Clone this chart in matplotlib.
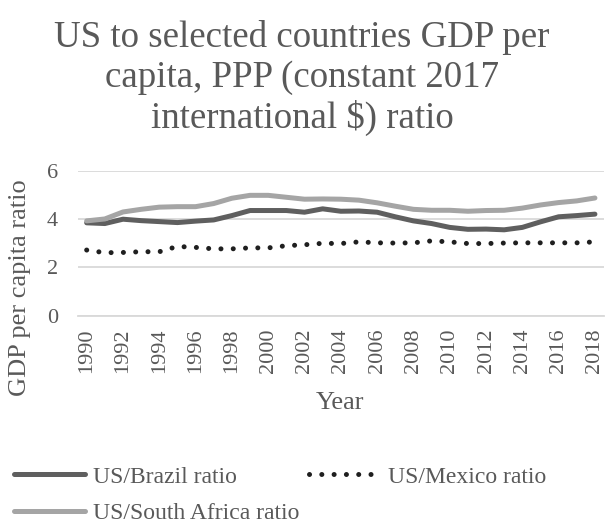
import matplotlib
matplotlib.use("Agg")
import matplotlib.pyplot as plt

plt.rcParams["font.family"] = ["Liberation Serif", "DejaVu Serif"]

years = [1990, 1991, 1992, 1993, 1994, 1995, 1996, 1997, 1998, 1999,
         2000, 2001, 2002, 2003, 2004, 2005, 2006, 2007, 2008, 2009,
         2010, 2011, 2012, 2013, 2014, 2015, 2016, 2017, 2018]
brazil = [3.85, 3.82, 4.00, 3.94, 3.90, 3.86, 3.92, 3.97, 4.15, 4.36,
          4.36, 4.36, 4.29, 4.43, 4.33, 4.34, 4.29, 4.10, 3.93, 3.82,
          3.66, 3.58, 3.59, 3.56, 3.66, 3.89, 4.10, 4.15, 4.21]
mexico = [2.72, 2.61, 2.62, 2.65, 2.65, 2.87, 2.83, 2.77, 2.77, 2.81,
          2.81, 2.90, 2.94, 3.00, 2.99, 3.06, 3.02, 3.01, 3.02, 3.10,
          3.06, 2.99, 2.99, 3.01, 3.02, 3.02, 3.02, 3.02, 3.06]
south_africa = [3.93, 4.01, 4.30, 4.41, 4.50, 4.52, 4.52, 4.65, 4.87, 4.99,
                4.99, 4.91, 4.83, 4.84, 4.83, 4.79, 4.68, 4.54, 4.41, 4.37,
                4.37, 4.33, 4.36, 4.37, 4.46, 4.59, 4.69, 4.76, 4.88]
y_ticks = [0, 2, 4, 6]
x_tick_labels = [str(y) for y in years[::2]]

TEXT = "#595959"
GRID = "#d9d9d9"

fig = plt.figure(figsize=(6.05, 5.23), dpi=100)
ax = fig.add_axes([77.6 / 605, 207.4 / 523, (604 - 77.6) / 605, 144.6 / 523])

x = list(range(len(years)))
l_br, = ax.plot(x, brazil, color="#5f5f5f", lw=3.6, solid_capstyle="round",
                solid_joinstyle="round", label="US/Brazil ratio")
l_mx, = ax.plot(x, mexico, color="#1f1f1f", lw=3.6, linestyle=(0, (0.01, 2.45)),
                dash_capstyle="round", label="US/Mexico ratio")
l_sa, = ax.plot(x, south_africa, color="#a5a5a5", lw=3.6, solid_capstyle="round",
                solid_joinstyle="round", label="US/South Africa ratio")

ax.set_xlim(-0.5, len(years) - 0.5)
ax.set_ylim(0, 6)
ax.set_yticks(y_ticks)
ax.set_xticks(x[::2])
ax.set_xticklabels(x_tick_labels, rotation=90)
ax.grid(axis="y", color=GRID, lw=1.3)
ax.set_axisbelow(True)
for s in ["top", "right", "left"]:
    ax.spines[s].set_visible(False)
ax.spines["bottom"].set_color(GRID)
ax.spines["bottom"].set_linewidth(1.3)
ax.tick_params(axis="both", length=0, colors=TEXT, labelsize=16)
ax.tick_params(axis="y", pad=14)
ax.tick_params(axis="x", pad=9)

ax.set_ylabel("GDP per capita ratio", fontsize=19, color=TEXT)
ax.yaxis.set_label_coords(31 / 605, (523 - 288) / 523, transform=fig.transFigure)
ax.set_xlabel("Year", fontsize=19, color=TEXT)
ax.xaxis.set_label_coords(340 / 605, (523 - 392) / 523, transform=fig.transFigure)

fig.text(302 / 605, 1 - 78 / 523,
         "US to selected countries GDP per\ncapita, PPP (constant 2017\ninternational $) ratio",
         ha="center", va="center", fontsize=26.6, color=TEXT, linespacing=1.18)

fig.legend([l_br, l_sa, l_mx], [l_br.get_label(), l_sa.get_label(), l_mx.get_label()],
           ncol=2, loc="upper left", bbox_to_anchor=(14 / 605, 1 - 466 / 523),
           frameon=False, fontsize=17, handlelength=3.0, handletextpad=0.34,
           columnspacing=0.4, labelspacing=0.64, borderpad=0, borderaxespad=0,
           labelcolor=TEXT)

fig.savefig("out.png", dpi=100)
